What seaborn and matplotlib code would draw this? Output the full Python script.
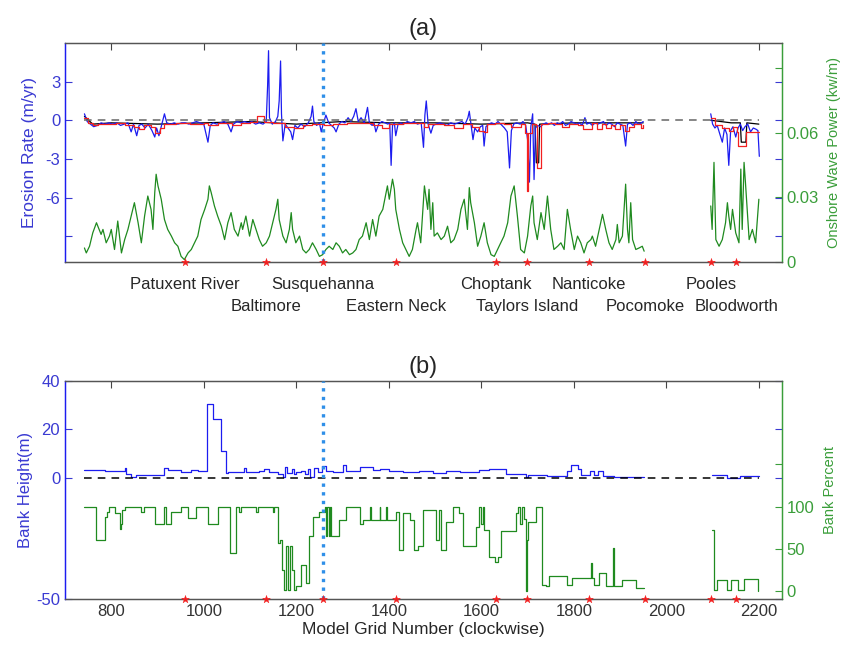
import numpy as np
import pandas as pd
import seaborn as sns
import matplotlib as mpl
from matplotlib import pyplot as plt
from matplotlib.transforms import blended_transform_factory

# Gauge / station locations along the model grid
stations = ["Patuxent River", "Baltimore", "Susquehanna", "Eastern Neck", "Choptank",
            "Taylors Island", "Nanticoke", "Pocomoke", "Pooles", "Bloodworth"]
station_grid = [960, 1135, 1257, 1416, 1631, 1699, 1832, 1954, 2097, 2151]
station_row = [0, 1, 0, 1, 0, 1, 0, 1, 0, 1]

# (a) onshore wave power (kw/m), two shoreline segments as (grid, value)
wave_seg1 = [
    (742, 0.0065), (746, 0.0042), (753, 0.0073), (760, 0.0135), (768, 0.0182), (771, 0.0166),
    (778, 0.0128), (782, 0.0151), (789, 0.0089), (796, 0.0120), (800, 0.0151), (807, 0.0058),
    (814, 0.0190), (822, 0.0042), (829, 0.0104), (836, 0.0151), (843, 0.0213), (850, 0.0275),
    (858, 0.0182), (865, 0.0089), (872, 0.0213), (879, 0.0306), (886, 0.0244), (890, 0.0151),
    (894, 0.0322), (897, 0.0407), (901, 0.0353), (908, 0.0291), (915, 0.0197), (922, 0.0151),
    (930, 0.0120), (937, 0.0089), (944, 0.0073), (951, 0.0026), (958, 0.0011), (966, 0.0042),
    (973, 0.0058), (980, 0.0089), (987, 0.0120), (994, 0.0197), (1002, 0.0244), (1009, 0.0291),
    (1012, 0.0353), (1016, 0.0322), (1023, 0.0260), (1030, 0.0213), (1038, 0.0166), (1045, 0.0104),
    (1052, 0.0182), (1059, 0.0229), (1066, 0.0151), (1074, 0.0120), (1081, 0.0182), (1084, 0.0151),
    (1091, 0.0213), (1099, 0.0120), (1106, 0.0197), (1113, 0.0151), (1120, 0.0104), (1127, 0.0073),
    (1135, 0.0089), (1142, 0.0120), (1149, 0.0182), (1156, 0.0244), (1160, 0.0291), (1163, 0.0197),
    (1171, 0.0120), (1178, 0.0089), (1185, 0.0151), (1189, 0.0229), (1192, 0.0151), (1199, 0.0089),
    (1207, 0.0120), (1214, 0.0058), (1221, 0.0042), (1228, 0.0058), (1235, 0.0089), (1243, 0.0058),
    (1250, 0.0026), (1257, 0.0034), (1264, 0.0058), (1271, 0.0073), (1279, 0.0058), (1286, 0.0089),
    (1293, 0.0073), (1300, 0.0042), (1307, 0.0058), (1315, 0.0034), (1322, 0.0042), (1329, 0.0058),
    (1336, 0.0104), (1343, 0.0120), (1351, 0.0182), (1358, 0.0104), (1365, 0.0197), (1372, 0.0120),
    (1379, 0.0213), (1387, 0.0244), (1394, 0.0322), (1397, 0.0353), (1401, 0.0291), (1408, 0.0384),
    (1412, 0.0337), (1415, 0.0244), (1423, 0.0151), (1430, 0.0089), (1437, 0.0058), (1444, 0.0026),
    (1451, 0.0058), (1459, 0.0151), (1462, 0.0182), (1469, 0.0089), (1477, 0.0353), (1484, 0.0244),
    (1487, 0.0337), (1491, 0.0151), (1495, 0.0275), (1498, 0.0120), (1505, 0.0135), (1513, 0.0104),
    (1520, 0.0120), (1527, 0.0166), (1534, 0.0089), (1541, 0.0104), (1549, 0.0151), (1556, 0.0244),
    (1563, 0.0291), (1570, 0.0151), (1574, 0.0345), (1577, 0.0275), (1585, 0.0182), (1592, 0.0073),
    (1599, 0.0120), (1606, 0.0182), (1613, 0.0089), (1621, 0.0034), (1628, 0.0026), (1635, 0.0058),
    (1642, 0.0089), (1649, 0.0120), (1657, 0.0182), (1664, 0.0306), (1671, 0.0353), (1678, 0.0213),
    (1685, 0.0058), (1693, 0.0042), (1700, 0.0120), (1707, 0.0260), (1711, 0.0306), (1714, 0.0182),
    (1721, 0.0104), (1729, 0.0229), (1736, 0.0151), (1743, 0.0306), (1750, 0.0151), (1757, 0.0058),
    (1765, 0.0073), (1772, 0.0089), (1779, 0.0058), (1786, 0.0244), (1793, 0.0151), (1801, 0.0058),
    (1808, 0.0120), (1815, 0.0089), (1822, 0.0042), (1829, 0.0089), (1837, 0.0104), (1840, 0.0120),
    (1847, 0.0073), (1855, 0.0151), (1862, 0.0221), (1869, 0.0151), (1876, 0.0089), (1883, 0.0058),
    (1891, 0.0104), (1894, 0.0174), (1898, 0.0089), (1905, 0.0120), (1912, 0.0361), (1916, 0.0151),
    (1919, 0.0089), (1923, 0.0275), (1927, 0.0104), (1934, 0.0058), (1941, 0.0065), (1948, 0.0073),
    (1952, 0.0050)]
wave_seg2 = [
    (2096, 0.0260), (2099, 0.0151), (2103, 0.0462), (2107, 0.0104), (2114, 0.0073), (2121, 0.0104),
    (2128, 0.0182), (2132, 0.0275), (2135, 0.0213), (2139, 0.0151), (2143, 0.0244), (2150, 0.0135),
    (2157, 0.0089), (2161, 0.0431), (2164, 0.0151), (2168, 0.0462), (2171, 0.0369), (2179, 0.0104),
    (2186, 0.0151), (2193, 0.0089), (2200, 0.0291)]

# (a) erosion rate (m/yr) - blue series
erosion_blue_seg1 = [
    (742, 0.5), (748, -0.1), (755, -0.3), (762, -0.5), (770, -0.4), (778, -0.2), (786, -0.3),
    (795, -0.2), (803, -0.3), (812, -0.2), (820, -0.4), (828, -0.3), (836, -0.2), (843, -0.9),
    (848, -0.3), (855, -1.2), (860, -0.4), (866, -0.3), (873, -0.6), (880, -0.3), (888, -0.8),
    (894, -1.3), (898, -0.6), (903, -1.2), (908, -0.5), (915, 0.5), (920, -0.2), (928, -0.3),
    (936, -0.2), (944, -0.3), (952, -0.2), (960, -0.2), (968, -0.3), (976, -0.2), (984, -0.1),
    (992, -0.2), (1000, -0.3), (1009, -1.7), (1014, -0.4), (1020, -0.2), (1028, -0.3), (1036, -0.2),
    (1044, -0.1), (1052, -0.3), (1059, -0.9), (1064, -0.3), (1072, -0.1), (1080, -0.2), (1088, -0.1),
    (1096, -0.2), (1104, -0.1), (1112, -0.3), (1120, -0.2), (1128, -0.3), (1135, -0.1), (1138, 2.7),
    (1140, 5.4), (1142, 0.2), (1148, -0.3), (1155, -0.1), (1160, 0.3), (1163, 1.5), (1166, 4.6),
    (1168, 0.5), (1171, -1.6), (1176, -0.3), (1182, -0.6), (1188, -0.9), (1192, -1.5), (1197, -0.4),
    (1203, -0.6), (1210, -0.3), (1218, -0.5), (1226, -0.2), (1232, 0.3), (1235, 1.1), (1238, -0.1),
    (1244, -0.4), (1250, -0.2), (1254, -0.9), (1258, -0.3), (1264, 0.4), (1270, -0.2), (1276, -0.4),
    (1282, -0.6), (1286, -0.9), (1292, -0.3), (1298, -0.1), (1305, -0.2), (1312, 0.2), (1318, -0.1),
    (1324, 0.3), (1329, 0.9), (1334, -0.1), (1340, 0.2), (1347, -0.2), (1354, 1.0), (1358, -0.2),
    (1364, -0.4), (1368, -0.2), (1372, -0.9), (1378, -0.3), (1385, -0.1), (1392, -0.2), (1398, -0.3),
    (1402, -0.2), (1405, -3.5), (1408, -0.4), (1412, -0.2), (1415, -1.2), (1420, -0.3), (1426, -0.2),
    (1432, -0.3), (1440, -0.1), (1448, -0.2), (1455, -0.1), (1462, -0.3), (1470, -0.2), (1475, -2.1),
    (1478, 0.4), (1481, 1.5), (1485, -0.3), (1491, -1.0), (1496, -0.4), (1502, -0.3), (1510, -0.2),
    (1518, -0.3), (1526, -0.4), (1534, -0.2), (1542, -0.3), (1550, -0.2), (1558, -0.1), (1565, -0.3),
    (1571, 0.2), (1574, 0.7), (1578, -0.4), (1582, -1.5), (1586, -0.6), (1592, -0.9), (1598, -0.5),
    (1603, -0.4), (1606, -2.0), (1610, -0.5), (1616, -0.3), (1622, -0.2), (1630, -0.3), (1636, -0.1),
    (1642, -0.3), (1650, -0.6), (1656, -0.9), (1661, -3.7), (1665, -0.8), (1670, -0.3), (1676, -0.2),
    (1684, -0.3), (1690, -0.1), (1696, -0.4), (1700, -1.5), (1704, -4.8), (1707, -0.5), (1711, 0.5),
    (1714, -4.6), (1717, -0.6), (1722, -0.4), (1728, -0.5), (1734, -0.3), (1740, -0.2), (1746, -0.3),
    (1752, -0.2), (1758, -0.4), (1764, -0.2), (1770, -0.3), (1776, -0.1), (1782, -0.4), (1788, -0.3),
    (1794, -0.1), (1800, -0.2), (1806, -0.3), (1812, -0.2), (1818, -0.4), (1824, 0.2), (1828, -0.3),
    (1834, -0.2), (1840, -0.4), (1846, -0.2), (1852, -0.3), (1858, -0.2), (1864, -0.1), (1870, -0.4),
    (1876, -0.2), (1882, -0.3), (1888, -0.5), (1894, -0.2), (1900, -0.3), (1906, -0.4), (1912, -2.0),
    (1916, -0.3), (1922, -0.2), (1928, -0.4), (1934, -0.1), (1940, -0.3), (1946, -0.2), (1950, -0.1)]
erosion_blue_seg2 = [
    (2096, 0.5), (2100, -0.3), (2105, -0.6), (2110, -0.4), (2115, -1.0), (2121, -1.7), (2126, -0.6),
    (2131, -1.1), (2135, -3.5), (2139, -0.8), (2144, -0.5), (2150, -1.3), (2155, -0.6), (2160, -0.3),
    (2165, -0.8), (2170, -0.5), (2176, -0.3), (2182, -0.9), (2188, -0.6), (2194, -0.7), (2198, -0.8),
    (2201, -2.8)]

# (a) erosion rate (m/yr) - red series (stepped)
erosion_red_seg1 = [
    (742, 0.2), (750, -0.2), (760, -0.4), (772, -0.3), (790, -0.3), (810, -0.2), (830, -0.4),
    (850, -0.5), (860, -0.7), (870, -0.4), (885, -0.5), (895, -1.0), (905, -0.6), (915, -0.3),
    (940, -0.2), (970, -0.3), (1000, -0.2), (1010, -0.4), (1030, -0.2), (1060, -0.4), (1080, -0.2),
    (1100, -0.1), (1115, 0.3), (1125, 0.3), (1130, -0.1), (1150, -0.2), (1175, -0.5), (1195, -0.6),
    (1215, -0.4), (1235, -0.3), (1260, -0.4), (1280, -0.3), (1310, -0.2), (1340, -0.2), (1365, -0.4),
    (1385, -0.6), (1400, -0.3), (1430, -0.2), (1460, -0.2), (1475, -0.5), (1485, -0.3), (1500, -0.3),
    (1520, -0.4), (1540, -0.6), (1560, -0.3), (1580, -0.5), (1595, -0.8), (1605, -0.9), (1612, -0.3),
    (1630, -0.2), (1650, -0.3), (1665, -0.5), (1685, -0.3), (1695, -1.0), (1698, -5.5), (1701, -1.0),
    (1710, -0.3), (1718, -0.4), (1721, -3.7), (1728, -3.7), (1730, -0.3), (1745, -0.2), (1760, -0.3),
    (1775, -0.5), (1790, -0.3), (1810, -0.4), (1820, -0.7), (1830, -0.7), (1840, -0.2), (1850, -0.7),
    (1860, -0.3), (1870, -0.6), (1880, -0.4), (1890, -0.7), (1900, -0.4), (1910, -0.8), (1920, -0.5),
    (1930, -0.3), (1945, -0.6), (1950, -0.4)]
erosion_red_seg2 = [
    (2096, 0.2), (2105, -0.4), (2120, -0.6), (2135, -0.8), (2145, -0.5), (2152, -0.9), (2154, -2.0),
    (2170, -2.0), (2172, -0.9), (2195, -0.9), (2200, -0.9)]

# (a) erosion rate (m/yr) - black series
erosion_black_seg1 = [
    (742, 0.3), (760, -0.3), (800, -0.2), (900, -0.3), (1000, -0.2), (1100, -0.1), (1200, -0.3),
    (1300, -0.1), (1400, -0.2), (1500, -0.2), (1600, -0.3), (1700, -0.2), (1716, -0.3), (1719, -3.3),
    (1724, -3.3), (1726, -0.3), (1800, -0.2), (1900, -0.2), (1950, -0.2)]
erosion_black_seg2 = [
    (2096, 0.0), (2140, -0.2), (2160, -0.2), (2162, -1.7), (2172, -1.7), (2174, -0.2), (2200, -0.3)]

# (b) bank height (m), stepped
bank_height_seg1 = [
    (742, 3.3), (786, 3.0), (829, 4.1), (832, 1.7), (843, 0.3), (854, 1.4), (915, 4.1), (922, 3.3),
    (951, 2.3), (973, 3.3), (987, 2.8), (1008, 30.6), (1020, 24.4), (1037, 11.0), (1049, 2.0),
    (1052, 2.3), (1088, 4.0), (1092, 2.3), (1120, 2.8), (1131, 3.5), (1140, 2.3), (1160, 1.5),
    (1171, 0.3), (1176, 4.4), (1180, 2.0), (1190, 3.8), (1195, 1.5), (1200, 2.5), (1210, 3.0),
    (1218, 1.8), (1225, 3.7), (1229, 0.3), (1239, 4.0), (1248, 2.5), (1255, 5.0), (1265, 3.0),
    (1280, 2.5), (1301, 5.5), (1308, 3.0), (1337, 4.7), (1365, 3.3), (1380, 3.8), (1400, 2.8),
    (1430, 2.5), (1466, 3.0), (1495, 1.9), (1524, 2.8), (1553, 2.3), (1596, 3.3), (1617, 3.7),
    (1653, 1.7), (1697, 0.3), (1700, 1.4), (1743, 0.6), (1786, 3.0), (1793, 5.5), (1808, 3.7),
    (1815, 1.0), (1836, 3.0), (1844, 1.0), (1852, 2.7), (1862, 0.6), (1887, 0.3), (1952, 0.3)]
bank_height_seg2 = [(2098, 1.0), (2131, 0.0), (2160, 0.8), (2200, 0.8)]

# (b) bank percent, stepped
bank_pct_seg1 = [
    (742, 100), (768, 61), (786, 88), (790, 94), (796, 100), (807, 92), (818, 74), (821, 80),
    (823, 96), (829, 100), (865, 93), (870, 100), (894, 80), (915, 100), (918, 80), (930, 94),
    (951, 100), (966, 86), (984, 100), (1009, 80), (1030, 100), (1056, 45), (1070, 100), (1077, 93),
    (1080, 100), (1113, 93), (1118, 100), (1149, 93), (1152, 100), (1160, 57), (1165, 61), (1170, 25),
    (1174, 2), (1177, 53), (1183, 2), (1186, 53), (1190, 25), (1194, 2), (1200, 6), (1210, 31),
    (1222, 10), (1227, 65), (1236, 88), (1250, 94), (1261, 100), (1264, 65), (1267, 100), (1270, 65),
    (1273, 100), (1275, 65), (1293, 84), (1308, 100), (1337, 80), (1344, 84), (1360, 100), (1362, 84),
    (1380, 100), (1382, 84), (1395, 100), (1397, 84), (1416, 94), (1423, 49), (1430, 92), (1445, 84),
    (1455, 49), (1463, 53), (1473, 96), (1502, 61), (1509, 96), (1513, 49), (1524, 82), (1538, 100),
    (1552, 92), (1560, 53), (1588, 76), (1596, 100), (1600, 80), (1603, 100), (1606, 72), (1617, 41),
    (1630, 35), (1636, 41), (1642, 71), (1675, 92), (1680, 100), (1684, 80), (1688, 100), (1692, 85),
    (1696, 0), (1699, 60), (1700, 82), (1718, 100), (1732, 8), (1740, 6), (1747, 18), (1786, 8),
    (1797, 16), (1837, 33), (1840, 16), (1844, 8), (1855, 22), (1869, 6), (1884, 51), (1886, 6),
    (1905, 14), (1934, 4), (1952, 4)]
bank_pct_seg2 = [(2098, 72), (2103, 2), (2110, 14), (2132, 2), (2139, 14), (2154, 2), (2168, 15),
                 (2197, 15), (2199, 0)]

x_ticks = [800, 1000, 1200, 1400, 1600, 1800, 2000, 2200]


def to_frame(seg1, seg2, name):
    """Stack the two shoreline segments into one long dataframe"""
    rows = [(g, v, 1) for g, v in seg1] + [(g, v, 2) for g, v in seg2]
    return pd.DataFrame(rows, columns=["grid", name, "seg"])


wave_df = to_frame(wave_seg1, wave_seg2, "wave")
blue_df = to_frame(erosion_blue_seg1, erosion_blue_seg2, "erosion")
red_df = to_frame(erosion_red_seg1, erosion_red_seg2, "erosion")
black_df = to_frame(erosion_black_seg1, erosion_black_seg2, "erosion")
height_df = to_frame(bank_height_seg1, bank_height_seg2, "height")
pct_df = to_frame(bank_pct_seg1, bank_pct_seg2, "pct")

# Style
sns.set_style("white")
plt.rcParams["font.family"] = ["Liberation Sans", "DejaVu Sans"]
plt.rcParams["axes.unicode_minus"] = False
BLUE = "#1c1cf0"
BLUE_TXT = "#3a3ad2"
GREEN = "#1f8a1f"
GREEN_TXT = "#3a9e3a"
RED = "#f22020"
GRAY = "#666666"
DOT = "#2f8fe8"
FS = 12

fig = plt.figure(figsize=(8.51, 6.48), dpi=100)
ax_a = fig.add_axes([0.0764, 0.5957, 0.8425, 0.338])
ax_b = fig.add_axes([0.0764, 0.0756, 0.8425, 0.3364])
ax_a2 = ax_a.twinx()
ax_b2 = ax_b.twinx()

# ---- panel (a) ----
line_kw = dict(x="grid", units="seg", estimator=None, sort=False, legend=False)
sns.lineplot(data=black_df, y="erosion", color="black", lw=0.9, ax=ax_a, **line_kw)
sns.lineplot(data=blue_df, y="erosion", color=BLUE, lw=0.9, ax=ax_a, **line_kw)
sns.lineplot(data=red_df, y="erosion", color=RED, lw=0.9, drawstyle="steps-post", ax=ax_a, **line_kw)
ax_a.hlines(0, wave_df["grid"].min(), wave_df["grid"].max(), colors=GRAY, linestyles=(0, (5, 4)), lw=1.1)
sns.lineplot(data=wave_df, y="wave", color=GREEN, lw=0.9, ax=ax_a2, **line_kw)

ax_a.set_ylim(-11, 6)
ax_a2.set_ylim(0, 0.1016)
ax_a.set_yticks([-9, -6, -3, 0, 3])
ax_a.set_yticklabels(["", "-6", "-3", "0", "3"])
ax_a2.set_yticks([0, 0.03, 0.06, 0.09])
ax_a2.set_yticklabels(["0", "0.03", "0.06", ""])
ax_a.set_ylabel("Erosion Rate (m/yr)", color=BLUE_TXT, fontsize=12.5, labelpad=6)
ax_a2.set_ylabel("Onshore Wave Power (kw/m)", color=GREEN_TXT, fontsize=10.5, labelpad=6)
ax_a.set_title("(a)", fontsize=17, pad=6)

# station names under panel (a)
trans = blended_transform_factory(ax_a.transData, ax_a.transAxes)
for name, g, row in zip(stations, station_grid, station_row):
    ax_a.text(g, -0.105 - 0.1 * row, name, transform=trans, ha="center", va="center", fontsize=FS)

# ---- panel (b) ----
sns.lineplot(data=height_df, y="height", color=BLUE, lw=0.9, drawstyle="steps-post", ax=ax_b, **line_kw)
ax_b.hlines(0, height_df["grid"].min(), height_df["grid"].max(), colors="black", linestyles=(0, (5, 4)), lw=1.1)
sns.lineplot(data=pct_df, y="pct", color=GREEN, lw=0.9, drawstyle="steps-post", ax=ax_b2, **line_kw)

ax_b.set_ylim(-50, 40)
ax_b2.set_ylim(-9, 248)
ax_b.set_yticks([-50, 0, 20, 40])
ax_b2.set_yticks([0, 50, 100, 150])
ax_b2.set_yticklabels(["0", "50", "100", ""])
ax_b.set_ylabel("Bank Height(m)", color=BLUE_TXT, fontsize=12, labelpad=2)
ax_b2.set_ylabel("Bank Percent", color=GREEN_TXT, fontsize=10.5, labelpad=6)
ax_b.set_xlabel("Model Grid Number (clockwise)", fontsize=12.5, labelpad=2)
ax_b.set_title("(b)", fontsize=17, pad=6)

# ---- shared axis cosmetics ----
for ax, ax2, ylo in [(ax_a, ax_a2, -11), (ax_b, ax_b2, -50)]:
    ax.set_xlim(700, 2250)
    ax.set_xticks(x_ticks)
    ax.axvline(station_grid[stations.index("Susquehanna")], color=DOT, ls=(0, (1, 1.6)), lw=2.4, zorder=5)
    sns.scatterplot(x=station_grid, y=[ylo] * len(station_grid), marker="*", color=RED, s=35,
                    edgecolor=RED, linewidth=0.3, clip_on=False, zorder=10, ax=ax)
    ax.tick_params(axis="x", direction="in", top=True, length=5, color="#444444", labelsize=FS,
                   labelcolor="#333333")
    ax.tick_params(axis="y", direction="in", right=True, length=5, colors=BLUE_TXT, labelsize=FS)
    ax2.tick_params(axis="y", direction="in", length=5, colors=GREEN_TXT, labelsize=FS)
    ax2.set_zorder(ax.get_zorder() - 1)
    ax.patch.set_visible(False)
    for a in (ax, ax2):
        a.spines["top"].set_color("#555555")
        a.spines["bottom"].set_color("#555555")
        a.spines["left"].set_color(BLUE)
        a.spines["right"].set_color(GREEN_TXT)
        for s in a.spines.values():
            s.set_linewidth(0.9)
ax_a.set_xlabel("")
ax_a.set_xticklabels([])

fig.savefig("out.png", dpi=100)
